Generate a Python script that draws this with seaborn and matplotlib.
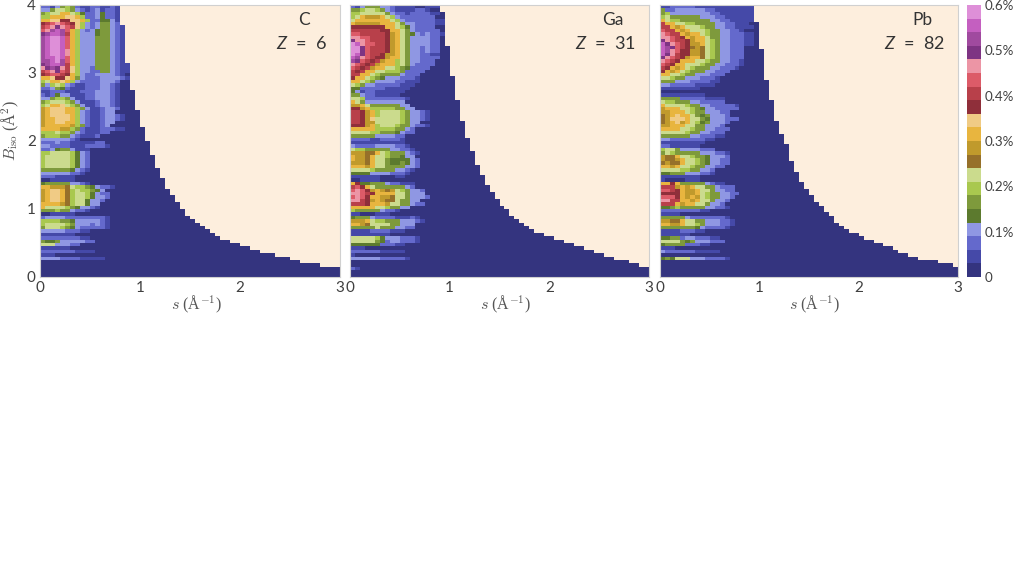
import numpy as np
import pandas as pd
import seaborn as sns
import matplotlib
matplotlib.use("Agg")
import matplotlib.pyplot as plt
from matplotlib.colors import ListedColormap

# colour step of every cell, one string per row from B=4 down, one base-20 digit per s column
# columns not written are in the lowest step
rows_c = [
    "2213565211221121", "3357765321231221", "5677aa7642234221", "66aaabba62234221",
    "aabbccbba6224431", "cdefedcb632355321", "defgfedb632355321", "efhihea63234553211",
    "ghiihda63334553211", "hijjiea63335553211", "hijjiea63335553211", "hijjiea63335553211",
    "hijjiea63335553211", "hijjifa63335553211", "hijjifa63335553211", "hiijiea63335553211",
    "hhijhea63335553211", "ghiihda63335553211", "fghgfdb63325553211", "defgedb63322553211",
    "cdeedca6322333321", "aabccba53222333321", "67aaba6322223332", "5367632112223321",
    "2235421112223321", "1122211122233321", "2124331112233321", "3356653112233321",
    "5677765311123321", "67aab76531123321", "9abbbaa653112332", "9abbbaa63211233",
    "9abbbba6321123321", "9aabbba6321123321", "9aabbaa63211233", "9aaaaa96521123",
    "aaaa9965211122211", "66676653211122", "566655321112", "33333321",
    "2223221111122", "33222211122221", "2234553111", "6677776432", "6777776432",
    "6777776432", "6777776432", "6777776432", "5555554321", "333333221", "2221111",
    "00111110", "4555553321", "aa9998766543221", "9abba86766543", "9abba867764322",
    "9abba867764332", "9abba86774332", "aaaa98677433", "a77776543321", "5556553221",
    "00111110", "23333222222221", "66665543333321", "67777653332321", "57776543222221",
    "3333322211", "1111111", "2222222211", "54453333322", "77733322", "111111",
    "22222221111", "111", "3333222211111",
]
rows_ga = [
    "2135553321111001111", "5567765321111221", "667777753221222211", "67a999a7632222222",
    "7aaaaaaa76322222211", "a99999aaa7533222211", "cccccccaa76432222",
    "ddddddccaa75322222", "eedddddc9a7543232211", "ffeedddc9a75333322",
    "gffedddc9a75333322", "jifeeddc9a75333322", "jjgedddc9a75332322", "jjgedddc9a75332322",
    "jigeddc99a75332211", "ihfedcc9aa75332222", "hgedcd9aa67533222", "fedcd9aaa67532222",
    "edcd9aa776542222", "dcdaa7766652222", "ddaa7655553222", "caa76543332221",
    "aa765333322111", "7653322222111", "442222211111", "43122111111", "5532211111",
    "776222222221", "a7533333333", "99a755555533", "cc9a666665533", "ddc9a67777653321",
    "ddc9a67777653321", "ddc9b77777653321", "ddc99777776533", "ccc9a67776553221",
    "aaaaa66665532", "7777665554322", "55555333322", "22221122221", "11111111111",
    "322223333221", "7665555533221", "99988a76555321", "a998a77655433",
    "a998a775444432", "9998a775445432", "aaa9a775555332", "7777655553321", "444433332221",
    "11111100011", "001111", "ac44555322111", "deca755555532",
    "efec9a989765332", "ffedcaaaa775333", "efecaa9987753332", "ffdc9a98875533",
    "dddcaaa97755322", "aaaaa7765533", "6555553221", "110001110", "45553222211121",
    "999a76655533321", "aa98777755333", "5555575553322", "11112222111", "11111111",
    "77777643332221", "77777542332221", "44444422211", "111", "22222211111", "1",
    "333333222221", "", "", "21",
]
rows_pb = [
    "11222221111111111111", "5223333332211111111", "5633333333221111111", "6755555533322111111",
    "a766555555332211111", "daa776655553322111", "dda9a77765533221111", "edda9a77765533221",
    "fedda9aa76553322211", "ffedca9aa7553322211", "gfeddc9aa7653322211", "igfedc99a7653322211",
    "ihgedc89876533222", "ihfecc99876533222", "igfdcc99876533222", "gfedc9aa876533222",
    "fedcaaa7765533221", "edcaa777655332221", "dca9a76555332221", "ca9a7655533222",
    "aa77655333222", "776553332221", "555333222211", "33222221111", "11111111", "0000",
    "111111111", "5555222221111", "7665553322222", "a777765533222221", "9aaa776543322222",
    "99aaa765533322", "89abaa75453332", "89bbba7754333222", "89ab9a76453332", "99aaa77553332",
    "aaaa7765533222", "7777765533222", "5555553322211", "33222222211", "111111111",
    "22111111", "67753333222", "57655555333221", "988a7765543332", "9889a776543322",
    "8988a776543322", "aa9a776553322", "77776655332", "44555333221", "11111111", "10000111",
    "aaca555553211", "ddd9a9a77553222", "eedca99a7753322", "cccca99a76553322",
    "eeeca9a97655332", "ffddaa9a775332", "ddda9aa775332", "44565555533221", "2222222211",
    "1111000", "55555322222221", "9988a7755333221", "aa99a7765333221", "55555554322221",
    "111122211", "111111", "445523322211", "7777545333222", "4555522211", "111",
    "322222211111", "", "45477733322221",
]

# how many s columns hold data in each row: column counts and how many rows share each
cols_c = [16, 17, 18, 19, 20, 21, 22, 23, 24, 25, 26, 27, 28, 29, 30, 31, 32, 33, 34, 35, 36, 38, 40, 42, 44, 47, 50, 52, 56, 60]
runs_c = [6, 11, 8, 6, 5, 4, 4, 4, 3, 3, 2, 2, 2, 2, 1, 1, 1, 1, 1, 1, 1, 1, 1, 1, 1, 1, 1, 1, 1, 3]
cols_ga = [18, 19, 20, 21, 22, 23, 24, 25, 26, 27, 28, 29, 30, 31, 32, 33, 34, 35, 36, 37, 39, 41, 43, 45, 47, 49, 51, 53, 56, 58, 60]
runs_ga = [2, 10, 9, 7, 6, 5, 4, 4, 3, 3, 2, 2, 2, 1, 2, 1, 1, 1, 1, 1, 1, 1, 1, 1, 1, 1, 1, 1, 1, 1, 3]
cols_pb = [19, 20, 21, 22, 23, 24, 25, 26, 27, 28, 29, 30, 31, 32, 33, 34, 35, 36, 37, 38, 40, 41, 43, 45, 47, 48, 50, 52, 56, 59, 60]
runs_pb = [5, 8, 9, 6, 6, 4, 3, 5, 3, 3, 2, 2, 2, 1, 2, 1, 2, 1, 1, 1, 1, 1, 1, 1, 1, 1, 1, 1, 1, 1, 3]

step_colors = [
    "#34347f", "#4549a8", "#6469cc", "#8f97e3",
    "#5c7a2e", "#7e9a3c", "#a9c84f", "#cbdb8d",
    "#96702a", "#c09a2c", "#e8b53f", "#f0cb85",
    "#8f2f3a", "#b8404a", "#dc5b68", "#ec95a5",
    "#7e3483", "#a04a9f", "#c45fc0", "#de8fd8",
]
names = ["C", "Ga", "Pb"]
atomic = [6, 31, 82]
s_ticks = [0, 1, 2, 3]
b_ticks = [4, 3, 2, 1, 0]
pct_ticks = [0, 0.1, 0.2, 0.3, 0.4, 0.5, 0.6]
pct_labels = ["0", "0.1%", "0.2%", "0.3%", "0.4%", "0.5%", "0.6%"]

N_ROWS = 80
N_COLS = 60
STEP = 0.03
GREY = "#404040"


def make_frame(rows, cols, runs):
    data = np.full((N_ROWS, N_COLS), np.nan)
    limits = np.repeat(cols, runs)
    for r in range(N_ROWS):
        text = rows[r] if r < len(rows) else ""
        for c in range(limits[r]):
            level = int(text[c], 20) if c < len(text) else 0
            data[r, c] = (level + 0.5) * STEP
    return pd.DataFrame(data)


sns.set_theme(style="white")
plt.rcParams["font.family"] = ["Lato", "DejaVu Sans"]
plt.rcParams["mathtext.fontset"] = "custom"
plt.rcParams["mathtext.it"] = "Lato:italic"
plt.rcParams["mathtext.rm"] = "Lato"

W, H = 1014.0, 570.0
fig = plt.figure(figsize=(W / 100, H / 100), dpi=100)
lefts = [40, 350, 660]
widths = [300, 299, 298]
top, bottom = 5, 277
axes = [fig.add_axes([l / W, 1 - bottom / H, w / W, (bottom - top) / H]) for l, w in zip(lefts, widths)]
cax = fig.add_axes([967 / W, 1 - bottom / H, 14 / W, (bottom - top) / H])

cmap = ListedColormap(step_colors)
frames = [make_frame(rows_c, cols_c, runs_c), make_frame(rows_ga, cols_ga, runs_ga), make_frame(rows_pb, cols_pb, runs_pb)]

for i, ax in enumerate(axes):
    ax.set_facecolor("#fdeedd")
    sns.heatmap(frames[i], ax=ax, cmap=cmap, vmin=0, vmax=0.6, cbar=i == 2,
                cbar_ax=cax if i == 2 else None, xticklabels=False, yticklabels=False)
    ax.set_xticks(np.array(s_ticks) * N_COLS / 3)
    ax.set_xticklabels(s_ticks, rotation=0, fontsize=11, color=GREY)
    ax.tick_params(length=0, pad=3)
    ax.set_xlabel(r"$s$ (Å$^{-1}$)", family="Liberation Serif", math_fontfamily="cm", fontsize=11.5, color="#555555")
    ax.xaxis.set_label_coords(0.52, -0.06)
    if i == 0:
        ax.set_yticks(np.arange(len(b_ticks)) * N_ROWS / 4)
        ax.set_yticklabels(b_ticks, rotation=0, fontsize=11, color=GREY)
        ax.set_ylabel(r"$B_{\rm iso}$ (Å$^{2}$)", family="Liberation Serif", math_fontfamily="cm", fontsize=11.5, color="#555555")
        ax.yaxis.set_label_coords(-0.062, 0.54)
    else:
        ax.set_yticks([])
        ax.set_ylabel("")
    for spine in ax.spines.values():
        spine.set_visible(True)
        spine.set_color("#d0d0d0")
        spine.set_linewidth(0.8)
    ax.text(0.88, 0.945, names[i], transform=ax.transAxes, ha="center", va="center", fontsize=12.5, color="#333333")
    ax.text(0.955, 0.86, "$Z$  =  %d" % atomic[i], transform=ax.transAxes, ha="right", va="center",
            fontsize=13, color="#333333", math_fontfamily="custom")

cbar = axes[2].collections[0].colorbar
cbar.outline.set_visible(False)
cbar.set_ticks(pct_ticks)
cbar.set_ticklabels(pct_labels)
cbar.ax.tick_params(length=0, pad=2.5, labelsize=9.6, labelcolor=GREY)

fig.savefig("out.png", dpi=100)
